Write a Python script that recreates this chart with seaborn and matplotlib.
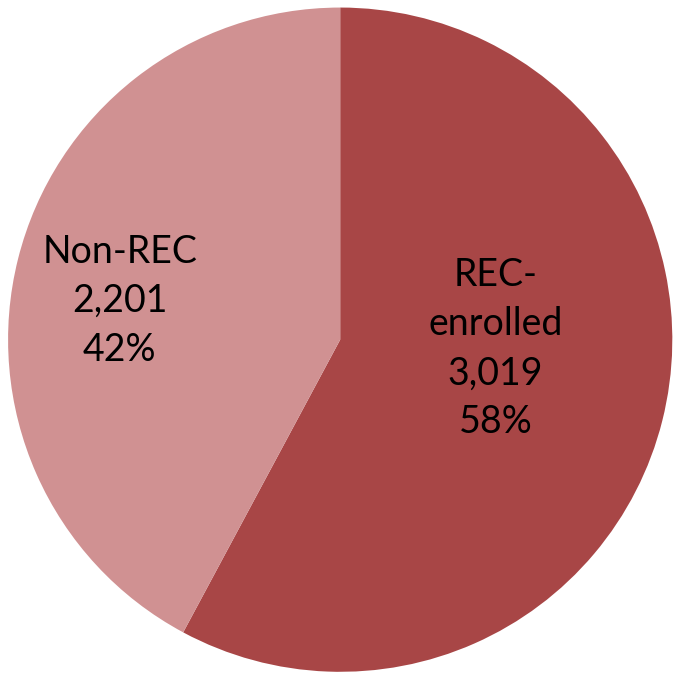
import matplotlib
matplotlib.use("Agg")
import matplotlib.pyplot as plt
import seaborn as sns
import numpy as np

sns.set_theme(style="white")
plt.rcParams['font.family'] = ['Lato', 'DejaVu Sans']

categories = ["REC-\nenrolled", "Non-REC"]
counts = [3019, 2201]
colors = ["#A84646", "#D09192"]
# label placement: (angle offset from slice middle in degrees, radius fraction)
label_pos = [(10.7, 0.468), (4.1, 0.674)]

fig = plt.figure(figsize=(6.73, 6.78), dpi=100)
ax = fig.add_axes([0.012, 0.004, 0.987, 0.99])

wedges, _ = ax.pie(counts, colors=colors, startangle=90, counterclock=False,
                   wedgeprops=dict(linewidth=0))
total = sum(counts)
for w, cat, n, (doff, rf) in zip(wedges, categories, counts, label_pos):
    mid = np.deg2rad((w.theta1 + w.theta2) / 2 + doff)
    x, y = rf * np.cos(mid), rf * np.sin(mid)
    ax.text(x, y, f"{cat}\n{n:,}\n{round(100 * n / total)}%", ha="center", va="center",
            fontsize=27, color="black", linespacing=1.45)
ax.set_aspect("equal")
ax.set_xlim(-1.0, 1.0)
ax.set_ylim(-1.0, 1.0)
ax.axis("off")
fig.savefig("out.png", dpi=100, facecolor="white")
